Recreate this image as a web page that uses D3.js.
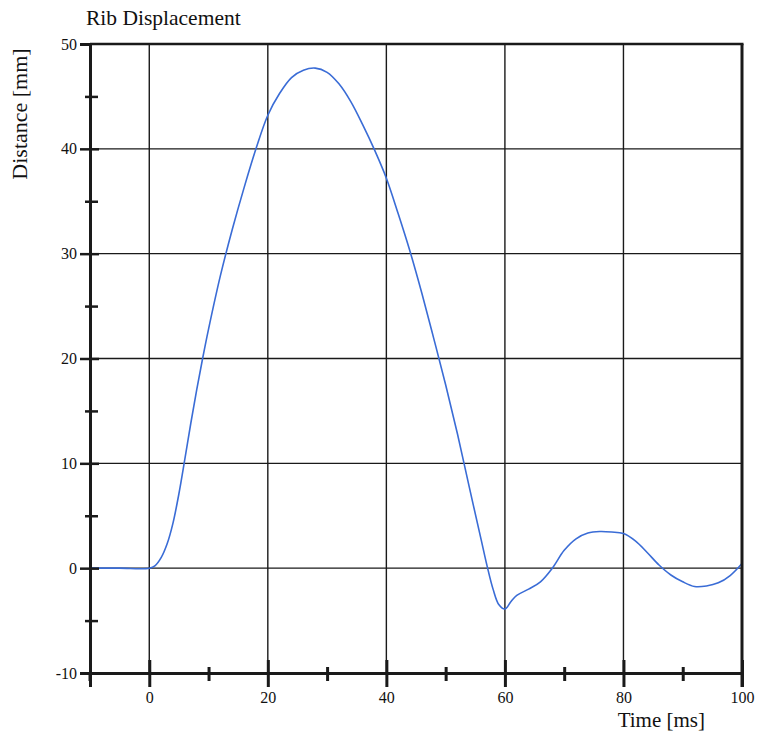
<!DOCTYPE html>
<html>
<head>
<meta charset="utf-8">
<script src="https://cdn.jsdelivr.net/npm/d3@7"></script>
<style>
  body { margin: 0; background: #fff; }
  text { font-family: 'Liberation Serif', 'DejaVu Serif', serif; fill: #111; }
</style>
</head>
<body>
<div id="chart"></div>
<script>
// time [ms] and rib displacement [mm]
const time = [-10, -5, 0, 1, 2, 3, 4, 5, 6, 7, 8, 9, 10, 12, 14, 16, 18, 20, 22, 24, 26, 28, 30, 32, 34, 36, 38, 40,
  42, 44, 46, 48, 50, 52, 54, 56, 57, 58, 59, 60, 61, 62, 64, 66, 68, 70, 72, 74, 76, 78, 80, 82, 84, 86,
  88, 90, 92, 94, 96, 98, 100]
const distance = [0, 0, 0, 0.25, 1.0, 2.3, 4.3, 7.1, 10.4, 13.8, 17.0, 20.0, 22.8, 27.9, 32.3, 36.3, 40, 43.2, 45.3, 46.8, 47.5, 47.7,
  47.3, 46.2, 44.5, 42.3, 39.9, 37.2, 33.8, 30.2, 26.2, 21.9, 17.5, 12.8, 7.7, 2.7, 0.2, -2, -3.5, -3.9, -3.2, -2.6,
  -2.0, -1.3, 0, 1.7, 2.8, 3.35, 3.5, 3.45, 3.3, 2.6, 1.5, 0.3, -0.65, -1.3, -1.75, -1.7, -1.4, -0.7, 0.45]

const xMajor = [0, 20, 40, 60, 80, 100]
const xMinor = [10, 30, 50, 70, 90]
const yMajor = [-10, 0, 10, 20, 30, 40, 50]
const yMinor = [-5, 5, 15, 25, 35, 45]
const xGrid = [0, 20, 40, 60, 80]
const yGrid = [0, 10, 20, 30, 40]

const width = 757
const height = 736
const margin = {top: 44, right: 15, bottom: 63, left: 90}

const x = d3.scaleLinear().domain([-10, 100]).range([margin.left, width - margin.right])
const y = d3.scaleLinear().domain([-10, 50]).range([height - margin.bottom, margin.top])

const svg = d3.select('#chart').append('svg')
    .attr('width', width)
    .attr('height', height)

const ink = '#1a1a1a'

// grid
svg.append('g').selectAll('line').data(xGrid).join('line')
    .attr('x1', d => x(d)).attr('x2', d => x(d))
    .attr('y1', y.range()[1]).attr('y2', y.range()[0])
    .attr('stroke', ink).attr('stroke-width', 1.4)
svg.append('g').selectAll('line').data(yGrid).join('line')
    .attr('x1', x.range()[0]).attr('x2', x.range()[1])
    .attr('y1', d => y(d)).attr('y2', d => y(d))
    .attr('stroke', ink).attr('stroke-width', 1.4)

// curve
const line = d3.line()
    .x((d, i) => x(time[i]))
    .y(d => y(d))
    .curve(d3.curveCatmullRom.alpha(0.5))

svg.append('path')
    .datum(distance)
    .attr('d', line)
    .attr('fill', 'none')
    .attr('stroke', '#3a6cd6')
    .attr('stroke-width', 1.6)

// frame top and right
svg.append('line')
    .attr('x1', x.range()[0]).attr('x2', x.range()[1] + 1.5)
    .attr('y1', y.range()[1]).attr('y2', y.range()[1])
    .attr('stroke', ink).attr('stroke-width', 2.5)
svg.append('line')
    .attr('x1', x.range()[1]).attr('x2', x.range()[1])
    .attr('y1', y.range()[1]).attr('y2', y.range()[0] + 14)
    .attr('stroke', ink).attr('stroke-width', 3)

// x axis
const xAxis = d3.axisBottom(x).tickValues(xMajor).tickSize(14).tickPadding(5).tickFormat(d => String(d))
const gx = svg.append('g')
    .attr('transform', 'translate(0,' + y.range()[0] + ')')
    .call(xAxis)
gx.select('.domain').attr('stroke', ink).attr('stroke-width', 3)
gx.selectAll('.tick line').attr('y1', -13).attr('stroke', ink).attr('stroke-width', 3)
gx.selectAll('.tick text').attr('font-size', 16)

const gxMinor = svg.append('g')
    .attr('transform', 'translate(0,' + y.range()[0] + ')')
    .call(d3.axisBottom(x).tickValues(xMinor).tickSize(8).tickFormat(''))
gxMinor.select('.domain').remove()
gxMinor.selectAll('.tick line').attr('y1', -6).attr('stroke', ink).attr('stroke-width', 3)

// y axis
const yAxis = d3.axisLeft(y).tickValues(yMajor).tickSize(10).tickPadding(3).tickFormat(d => String(d))
const gy = svg.append('g')
    .attr('transform', 'translate(' + x.range()[0] + ',0)')
    .call(yAxis)
gy.select('.domain').attr('stroke', ink).attr('stroke-width', 3)
gy.selectAll('.tick line').attr('x1', d => d === 50 ? 0 : 9).attr('stroke', ink).attr('stroke-width', 2.5)
gy.selectAll('.tick text').attr('font-size', 16)

const gyMinor = svg.append('g')
    .attr('transform', 'translate(' + x.range()[0] + ',0)')
    .call(d3.axisLeft(y).tickValues(yMinor).tickSize(5).tickFormat(''))
gyMinor.select('.domain').remove()
gyMinor.selectAll('.tick line').attr('x1', 8).attr('stroke', ink).attr('stroke-width', 2.5)

// extend left axis a little below the corner
svg.append('line')
    .attr('x1', x.range()[0]).attr('x2', x.range()[0])
    .attr('y1', y.range()[0]).attr('y2', y.range()[0] + 8)
    .attr('stroke', ink).attr('stroke-width', 3)

// titles
svg.append('text')
    .attr('x', 86).attr('y', 25)
    .attr('font-size', 21.5)
    .text('Rib Displacement')

svg.append('text')
    .attr('transform', 'translate(27,' + 114 + ')rotate(-90)')
    .attr('text-anchor', 'middle')
    .attr('font-size', 22)
    .text('Distance [mm]')

svg.append('text')
    .attr('x', 705).attr('y', 727)
    .attr('text-anchor', 'end')
    .attr('font-size', 21)
    .text('Time [ms]')
</script>
</body>
</html>
